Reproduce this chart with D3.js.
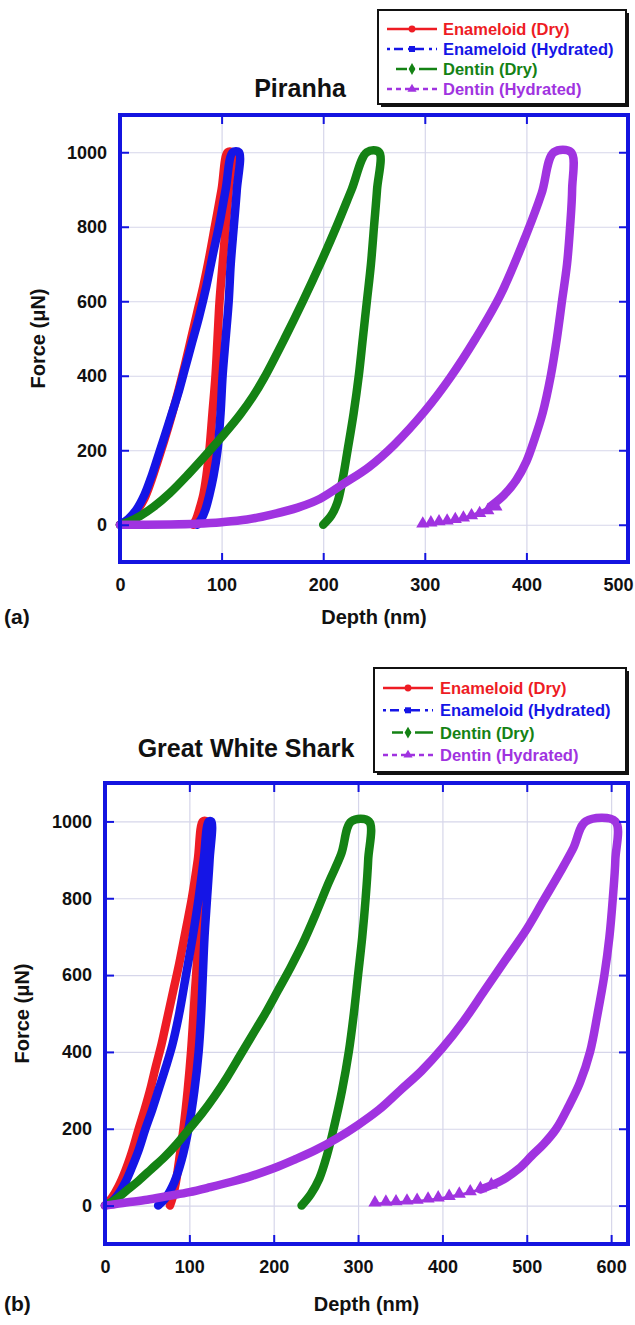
<!DOCTYPE html>
<html>
<head>
<meta charset="utf-8">
<script src="https://cdn.jsdelivr.net/npm/d3@7"></script>
<style>
  body { margin: 0; background: #fff; }
  text { font-family: "Liberation Sans", Arial, sans-serif; font-weight: bold; }
</style>
</head>
<body>
<div id="chart"></div>
<script>
// ---- data: [depth nm, force uN] ----
var seriesNames = ["Enameloid (Dry)", "Enameloid (Hydrated)", "Dentin (Dry)", "Dentin (Hydrated)"];
var forceTicks = [0, 200, 400, 600, 800, 1000];
var aDepthTicks = [0, 100, 200, 300, 400, 500];
var bDepthTicks = [0, 100, 200, 300, 400, 500, 600];

// (a) Piranha
var aEnameloidDry = [[0,0],[8,12],[16,35],[24,70],[31,120],[37,170],[44,230],[51,295],[58,365],[64,430],[70,500],[76,570],[82,640],[88,720],[94,810],[100,900],[106,1000],
  [110,1000],[107,900],[104,800],[101,700],[98,600],[96,500],[94,400],[91,300],[88,200],[85,130],[82,80],[78,40],[75,15],[72,0]];
var aEnameloidHyd = [[0,0],[8,15],[16,40],[24,80],[31,130],[37,180],[43,230],[50,290],[57,350],[64,420],[71,490],[78,560],[85,640],[91,720],[98,810],[104,900],[111,1000],
  [117,1000],[115,900],[112,800],[109,700],[107,600],[104,500],[101,400],[99,300],[96,200],[92,130],[88,80],[84,40],[80,15],[76,0]];
var aDentinDry = [[0,0],[10,10],[20,24],[33,48],[49,85],[67,135],[87,195],[103,245],[118,295],[131,345],[142,395],[162,500],[180,600],[197,700],[213,800],[228,900],[243,1000],
  [255,1000],[253,900],[250,800],[247,700],[243,600],[239,500],[235,400],[230,300],[224,200],[219,120],[214,60],[208,25],[200,0]];
var aDentinHyd = [[0,0],[25,0],[50,1],[75,3],[100,7],[125,14],[150,28],[175,46],[197,70],[220,110],[245,155],[270,215],[300,305],[325,395],[350,500],[375,620],[400,780],[415,890],[427,1000],
  [444,1000],[445,900],[443,800],[440,700],[435,600],[430,500],[424,400],[416,300],[408,230],[400,170],[390,120],[378,80],[365,50],[350,30],[330,12],[315,5],[298,0]];
var aDentinHydMarks = [[298,0],[306,3],[314,6],[322,8],[330,12],[338,16],[346,22],[354,28],[362,36],[370,46]];

// (b) Great White Shark
var bEnameloidDry = [[0,0],[8,20],[16,50],[24,90],[32,140],[40,200],[47,250],[54,305],[60,360],[67,420],[74,490],[81,560],[88,630],[96,720],[103,800],[110,900],[116,1000],
  [120,1000],[117,900],[114,800],[111,700],[108,600],[105,500],[102,400],[98,300],[93,200],[88,120],[84,60],[80,20],[77,0]];
var bEnameloidHyd = [[0,0],[8,10],[16,30],[24,60],[32,100],[40,145],[48,200],[56,250],[64,305],[72,360],[80,420],[88,500],[96,600],[104,700],[111,800],[117,900],[123,1000],
  [126,1000],[124,900],[121,800],[118,700],[116,600],[114,500],[111,400],[106,300],[99,200],[91,120],[82,60],[72,20],[63,0]];
var bDentinDry = [[0,0],[12,15],[25,38],[40,65],[55,95],[70,125],[85,160],[100,200],[115,240],[130,285],[145,335],[160,390],[175,445],[190,500],[205,560],[220,620],[235,685],[250,760],[265,840],[280,915],[292,1000],
  [313,1000],[312,900],[309,800],[305,700],[300,600],[295,500],[289,400],[281,300],[271,200],[263,130],[254,70],[244,30],[233,0]];
var bDentinHyd = [[0,0],[10,3],[25,8],[50,15],[75,25],[100,35],[125,48],[150,62],[175,78],[200,97],[225,120],[250,145],[275,175],[300,210],[325,250],[350,300],[375,350],[400,410],[425,480],[450,560],[475,640],[500,720],[520,795],[540,870],[555,930],[570,1000],
  [605,1000],[605,900],[602,800],[598,700],[592,600],[584,500],[575,400],[563,320],[550,260],[535,200],[520,160],[506,130],[490,95],[470,65],[445,42],[420,28],[395,18],[370,12],[345,8],[320,5]];
var bDentinHydMarks = [[320,5],[333,7],[345,8],[358,10],[370,12],[383,15],[395,18],[408,22],[420,28],[433,34],[445,42],[458,52]];

var colors = ["#ee1c24", "#1515e6", "#148214", "#a033e0"];
var frameBlue = "#1414e0";

var svg = d3.select("#chart").append("svg")
  .attr("width", 635).attr("height", 1325);
svg.append("rect").attr("width", 635).attr("height", 1325).attr("fill", "#fff");

function drawPanel(p) {
  var x = d3.scaleLinear().domain(p.xDomain).range([p.left, p.right]);
  var y = d3.scaleLinear().domain([-100, 1100]).range([p.bottom, p.top]);
  var w = p.right - p.left, h = p.bottom - p.top;
  var g = svg.append("g");

  // grid
  g.append("g").attr("transform", "translate(0," + p.bottom + ")")
    .call(d3.axisBottom(x).tickValues(p.xTicks).tickSize(-h).tickFormat(""))
    .call(function (s) { s.select(".domain").remove(); })
    .selectAll("line").attr("stroke", "#d6d6ea").attr("stroke-width", 1.2);
  g.append("g").attr("transform", "translate(" + p.left + ",0)")
    .call(d3.axisLeft(y).tickValues(forceTicks).tickSize(-w).tickFormat(""))
    .call(function (s) { s.select(".domain").remove(); })
    .selectAll("line").attr("stroke", "#d6d6ea").attr("stroke-width", 1.2);

  // curves
  var line = d3.line()
    .x(function (d) { return x(d[0]); })
    .y(function (d) { return y(d[1]); })
    .curve(d3.curveCatmullRom.alpha(0.5));
  p.series.forEach(function (s, i) {
    var thick = s, thin = null;
    if (i === 3) {
      thick = s.slice(0, s.length - p.tail);
      thin = s.slice(s.length - p.tail - 1);
    }
    g.append("path").datum(thick)
      .attr("d", line)
      .attr("fill", "none")
      .attr("stroke", colors[i])
      .attr("stroke-width", 8.5)
      .attr("stroke-linejoin", "round")
      .attr("stroke-linecap", "round");
    if (thin) {
      g.append("path").datum(thin)
        .attr("d", line)
        .attr("fill", "none")
        .attr("stroke", colors[i])
        .attr("stroke-width", 2.5);
    }
  });
  var tri = d3.symbol().type(d3.symbolTriangle).size(75);
  g.append("g").selectAll("path").data(p.marks).enter().append("path")
    .attr("d", tri)
    .attr("transform", function (d) { return "translate(" + x(d[0]) + "," + (y(d[1]) - 1) + ")"; })
    .attr("fill", colors[3]);

  // ticks on all four sides, pointing in
  var axes = [
    [d3.axisBottom(x).tickValues(p.xTicks), "translate(0," + p.bottom + ")", 16],
    [d3.axisTop(x).tickValues(p.xTicks), "translate(0," + p.top + ")", 0],
    [d3.axisLeft(y).tickValues(forceTicks), "translate(" + p.left + ",0)", 13],
    [d3.axisRight(y).tickValues(forceTicks), "translate(" + p.right + ",0)", 0]
  ];
  axes.forEach(function (a, k) {
    var ax = a[0].tickSize(-9);
    if (a[2]) ax.tickPadding(a[2]).tickFormat(d3.format("d")); else ax.tickFormat("");
    var ag = g.append("g").attr("transform", a[1]).call(ax);
    ag.select(".domain").remove();
    ag.selectAll("line").attr("stroke", frameBlue).attr("stroke-width", 2);
    ag.selectAll("text").attr("fill", "#111").style("font-size", "18px")
      .style("font-family", "'Liberation Sans', Arial, sans-serif").style("font-weight", "bold");
    if (k === 0 && p.lastDx) {
      ag.selectAll("text").filter(function (d) { return d === p.xTicks[p.xTicks.length - 1]; })
        .attr("dx", p.lastDx);
    }
  });

  g.append("rect")
    .attr("x", p.left).attr("y", p.top).attr("width", w).attr("height", h)
    .attr("fill", "none").attr("stroke", frameBlue).attr("stroke-width", 4);

  // labels
  g.append("text").attr("x", p.titleX).attr("y", p.titleY)
    .attr("text-anchor", "middle").style("font-size", "25px").attr("fill", "#111")
    .text(p.title);
  g.append("text").attr("x", (p.left + p.right) / 2).attr("y", p.xLabelY)
    .attr("text-anchor", "middle").style("font-size", "20px").attr("fill", "#111")
    .text("Depth (nm)");
  g.append("text")
    .attr("transform", "translate(" + p.yLabelX + "," + (p.top + h / 2) + ") rotate(-90)")
    .attr("text-anchor", "middle").style("font-size", "20px").attr("fill", "#111")
    .text("Force (\u03bcN)");
  g.append("text").attr("x", 4).attr("y", p.xLabelY)
    .style("font-size", "21px").attr("fill", "#111")
    .text(p.letter);

  // legend
  var L = p.legend;
  g.append("rect").attr("x", L.x + 3).attr("y", L.y + 3).attr("width", L.w).attr("height", L.h).attr("fill", "#111");
  g.append("rect").attr("x", L.x).attr("y", L.y).attr("width", L.w).attr("height", L.h)
    .attr("fill", "#fff").attr("stroke", "#111").attr("stroke-width", 2);
  var dashes = [null, "3,4,9,5", "0,9,11,4,4,4,14", "5,4"];
  seriesNames.forEach(function (name, i) {
    var ry = L.y + L.row0 + i * L.step;
    var x0 = L.x + 9, x1 = L.x + 59, cx = L.x + 34;
    g.append("line").attr("x1", x0).attr("x2", x1).attr("y1", ry).attr("y2", ry)
      .attr("stroke", colors[i]).attr("stroke-width", 2.5)
      .attr("stroke-dasharray", dashes[i]);
    var sym = [d3.symbolCircle, d3.symbolSquare, d3.symbolDiamond, d3.symbolTriangle][i];
    g.append("path").attr("d", d3.symbol().type(sym).size(i === 2 ? 40 : 36))
      .attr("transform", "translate(" + cx + "," + ry + ")").attr("fill", colors[i]);
    g.append("text").attr("x", L.x + L.textDx).attr("y", ry).attr("dy", "0.36em")
      .style("font-size", "16.5px").attr("fill", colors[i]).text(name);
  });
}

drawPanel({
  left: 120, right: 628, top: 115, bottom: 562,
  xDomain: [0, 500], xTicks: aDepthTicks, lastDx: -10,
  series: [aEnameloidDry, aEnameloidHyd, aDentinDry, aDentinHyd], marks: aDentinHydMarks, tail: 4,
  title: "Piranha", titleX: 300, titleY: 97,
  xLabelY: 624, yLabelX: 45, letter: "(a)",
  legend: { x: 378, y: 10, w: 248, h: 94, row0: 19, step: 20, textDx: 65 }
});

drawPanel({
  left: 105, right: 628, top: 783, bottom: 1244,
  xDomain: [0, 620], xTicks: bDepthTicks,
  series: [bEnameloidDry, bEnameloidHyd, bDentinDry, bDentinHyd], marks: bDentinHydMarks, tail: 5,
  title: "Great White Shark", titleX: 246, titleY: 757,
  xLabelY: 1311, yLabelX: 29, letter: "(b)",
  legend: { x: 374, y: 668, w: 252, h: 104, row0: 20, step: 22.3, textDx: 66 }
});
</script>
</body>
</html>
